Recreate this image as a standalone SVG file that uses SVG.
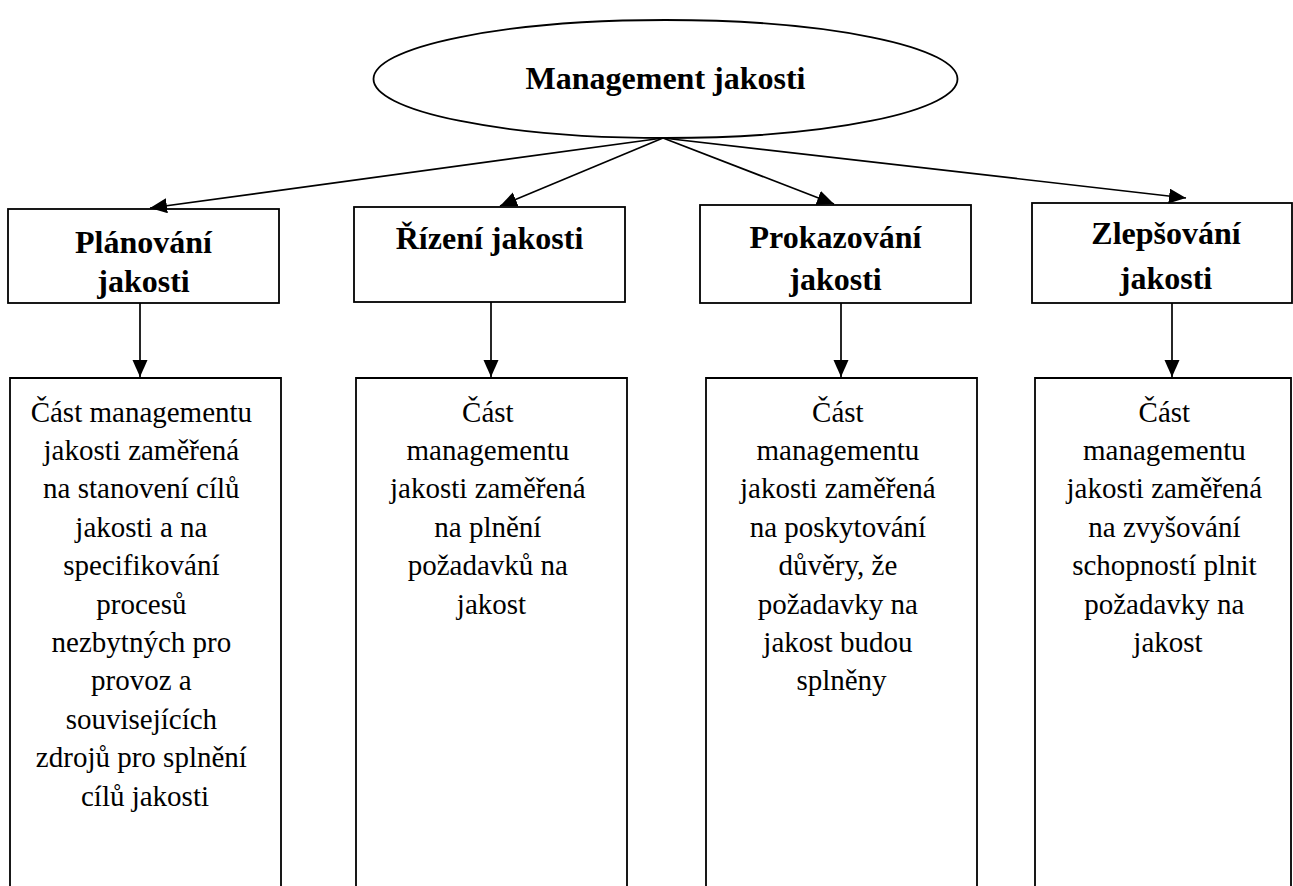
<svg xmlns="http://www.w3.org/2000/svg" width="1293" height="886" viewBox="0 0 1293 886">
<style>
  .box { fill: #fff; stroke: #000; stroke-width: 1.8; }
  .side { fill: none; stroke: #000; stroke-width: 1.8; }
  .hdr { font-family: 'Liberation Serif', 'DejaVu Serif', serif; font-weight: bold; font-size: 32px; fill: #000; text-anchor: middle; }
  .body { font-family: 'Liberation Serif', 'DejaVu Serif', serif; font-size: 29px; fill: #000; text-anchor: middle; }
  .con { fill: none; stroke: #000; stroke-width: 1.7; marker-end: url(#ah); }
</style>
<defs>
  <marker id="ah" markerUnits="userSpaceOnUse" markerWidth="20" markerHeight="16" refX="17" refY="7.5" orient="auto">
    <path d="M0,0 L17,7.5 L0,15 z" fill="#000"/>
  </marker>
</defs>
<rect width="1293" height="886" fill="#fff"/>

<g id="root">
  <ellipse cx="665.5" cy="79" rx="292" ry="59" class="box"/>
  <text x="665.5" y="89" class="hdr" font-family="Liberation Serif, serif">Management jakosti</text>
</g>

<g id="h1">
  <rect x="8" y="209" width="271" height="94" class="box"/>
  <text x="143.5" y="253" class="hdr" font-family="Liberation Serif, serif">Plánování</text>
  <text x="143.5" y="292" class="hdr" font-family="Liberation Serif, serif">jakosti</text>
</g>
<g id="h2">
  <rect x="354" y="207" width="271" height="95" class="box"/>
  <text x="489.5" y="249" class="hdr" font-family="Liberation Serif, serif">Řízení jakosti</text>
</g>
<g id="h3">
  <rect x="700" y="205" width="271" height="98" class="box"/>
  <text x="835.5" y="248" class="hdr" font-family="Liberation Serif, serif">Prokazování</text>
  <text x="835.5" y="290" class="hdr" font-family="Liberation Serif, serif">jakosti</text>
</g>
<g id="h4">
  <rect x="1032" y="203" width="260" height="100" class="box"/>
  <text x="1166" y="244" class="hdr" font-family="Liberation Serif, serif">Zlepšování</text>
  <text x="1166" y="289" class="hdr" font-family="Liberation Serif, serif">jakosti</text>
</g>

<g id="d1">
  <path d="M10,886 V378 H281 V886" class="side"/>
  <text class="body" font-family="Liberation Serif, serif">
    <tspan x="145" y="421.5">Část managementu</tspan>
    <tspan x="145" y="459.9">jakosti zaměřená</tspan>
    <tspan x="145" y="498.3">na stanovení cílů</tspan>
    <tspan x="145" y="536.7">jakosti a na</tspan>
    <tspan x="145" y="575.1">specifikování</tspan>
    <tspan x="145" y="613.5">procesů</tspan>
    <tspan x="145" y="651.9">nezbytných pro</tspan>
    <tspan x="145" y="690.3">provoz a</tspan>
    <tspan x="145" y="728.7">souvisejících</tspan>
    <tspan x="145" y="767.1">zdrojů pro splnění</tspan>
    <tspan x="145" y="805.5">cílů jakosti</tspan>
  </text>
</g>
<g id="d2">
  <path d="M356,886 V378 H627 V886" class="side"/>
  <text class="body" font-family="Liberation Serif, serif">
    <tspan x="491.5" y="421.5">Část</tspan>
    <tspan x="491.5" y="459.9">managementu</tspan>
    <tspan x="491.5" y="498.3">jakosti zaměřená</tspan>
    <tspan x="491.5" y="536.7">na plnění</tspan>
    <tspan x="491.5" y="575.1">požadavků na</tspan>
    <tspan x="491.5" y="613.5">jakost</tspan>
  </text>
</g>
<g id="d3">
  <path d="M706,886 V378 H977 V886" class="side"/>
  <text class="body" font-family="Liberation Serif, serif">
    <tspan x="841.5" y="421.5">Část</tspan>
    <tspan x="841.5" y="459.9">managementu</tspan>
    <tspan x="841.5" y="498.3">jakosti zaměřená</tspan>
    <tspan x="841.5" y="536.7">na poskytování</tspan>
    <tspan x="841.5" y="575.1">důvěry, že</tspan>
    <tspan x="841.5" y="613.5">požadavky na</tspan>
    <tspan x="841.5" y="651.9">jakost budou</tspan>
    <tspan x="841.5" y="690.3">splněny</tspan>
  </text>
</g>
<g id="d4">
  <path d="M1035,886 V378 H1291 V886" class="side"/>
  <text class="body" font-family="Liberation Serif, serif">
    <tspan x="1168" y="421.5">Část</tspan>
    <tspan x="1168" y="459.9">managementu</tspan>
    <tspan x="1168" y="498.3">jakosti zaměřená</tspan>
    <tspan x="1168" y="536.7">na zvyšování</tspan>
    <tspan x="1168" y="575.1">schopností plnit</tspan>
    <tspan x="1168" y="613.5">požadavky na</tspan>
    <tspan x="1168" y="651.9">jakost</tspan>
  </text>
</g>

<g id="connectors">
  <line x1="663" y1="138" x2="150" y2="208" class="con"/>
  <line x1="663" y1="138" x2="500" y2="206" class="con"/>
  <line x1="663" y1="138" x2="834" y2="204" class="con"/>
  <line x1="663" y1="138" x2="1186" y2="198" class="con"/>
  <line x1="140" y1="303" x2="140" y2="377" class="con"/>
  <line x1="491" y1="302" x2="491" y2="377" class="con"/>
  <line x1="841" y1="303" x2="841" y2="377" class="con"/>
  <line x1="1172" y1="303" x2="1172" y2="377" class="con"/>
</g>
</svg>
